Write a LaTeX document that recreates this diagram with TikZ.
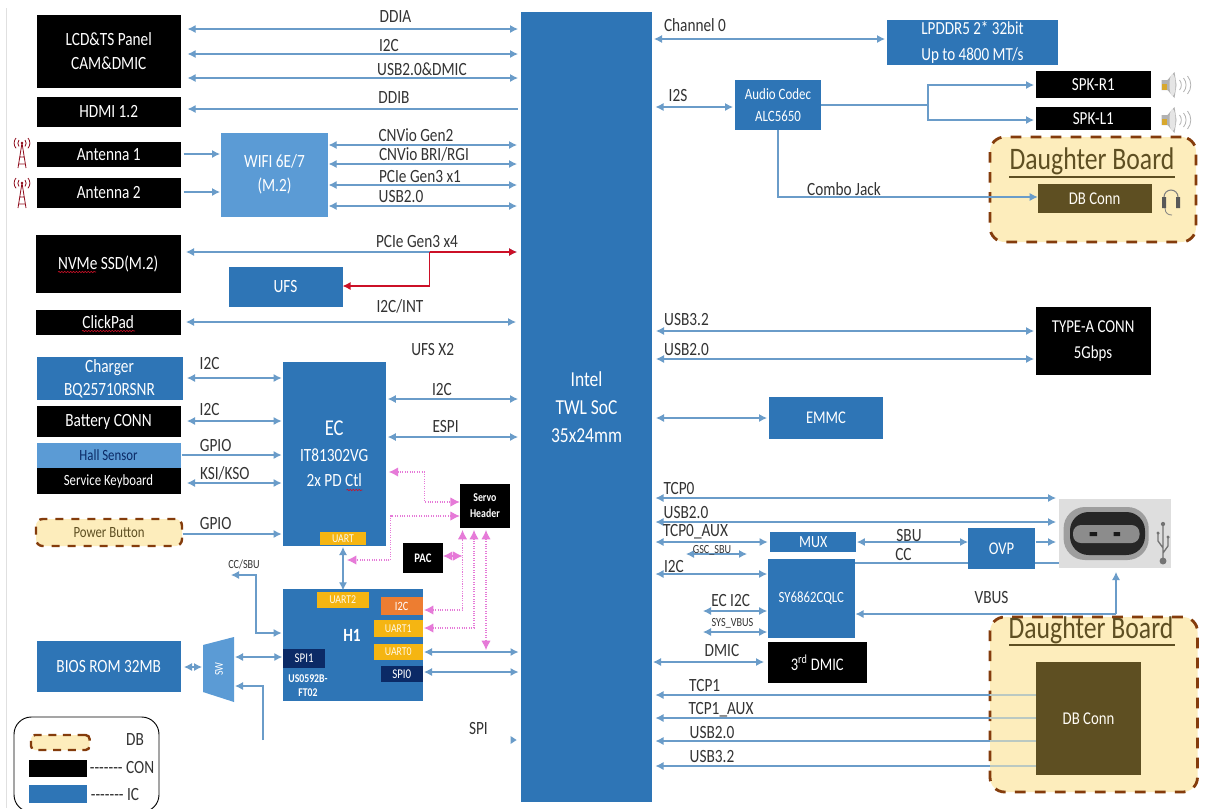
\documentclass[tikz,border=0pt]{standalone}
\usepackage{fontspec}
\setmainfont[FakeStretch=0.82]{Carlito}
\usetikzlibrary{arrows.meta,calc,decorations.pathmorphing}
\definecolor{ic}{HTML}{2E75B6}
\definecolor{wifi}{HTML}{5B9BD5}
\definecolor{wire}{HTML}{6A9CC9}
\definecolor{pinky}{HTML}{E67AD8}
\definecolor{redw}{HTML}{CC1027}
\definecolor{navy}{HTML}{0B2A66}
\definecolor{amber}{HTML}{F5B512}
\definecolor{orng}{HTML}{ED7D31}
\definecolor{dbfill}{HTML}{FDEDBC}
\definecolor{dbedge}{HTML}{843C0C}
\definecolor{dbtext}{HTML}{5E4F22}
\tikzset{
  anybox/.style={inner sep=0pt,outer sep=0pt,align=center,text=white,font=\fontsize{14}{18}\selectfont},
  icbox/.style={anybox,fill=ic},
  conbox/.style={anybox,fill=black},
  wifibox/.style={anybox,fill=wifi},
  yelbox/.style={anybox,fill=amber,font=\fontsize{9}{10}\selectfont,text=white!90!amber},
  orgbox/.style={anybox,fill=orng,font=\fontsize{9.5}{10}\selectfont},
  navbox/.style={anybox,fill=navy,font=\fontsize{10}{11}\selectfont},
  connbox/.style={anybox,fill=dbtext,text=white!85!dbfill,font=\fontsize{13.5}{15}\selectfont},
  dbbox/.style={anybox,fill=dbfill,draw=dbedge,line width=2.1pt,dash pattern=on 8pt off 7pt,rounded corners=11pt,text=dbtext},
  lbl/.style={inner sep=0pt,outer sep=0pt,text=black!80,font=\fontsize{14}{16}\selectfont},
  slbl/.style={lbl,font=\fontsize{9.3}{10}\selectfont},
  title/.style={inner sep=0pt,outer sep=0pt,text=dbtext,font=\fontsize{23.5}{26}\selectfont},
  whitebold/.style={inner sep=0pt,outer sep=0pt,text=white,font=\bfseries\fontsize{8.9}{10}\selectfont},
  wirel/.style={draw=wire,line width=0.85pt},
  bi/.style={wirel,{Latex[length=6pt,width=6pt]}-{Latex[length=6pt,width=6pt]}},
  to/.style={wirel,-{Latex[length=6pt,width=6pt]}},
  back/.style={wirel,{Latex[length=6pt,width=6pt]}-},
  pk/.style={draw=pinky,line width=0.8pt,densely dotted,{Latex[length=7pt,width=7pt]}-{Latex[length=7pt,width=7pt]}},
  rd/.style={draw=redw,line width=1pt},
  squig/.style={draw=redw,line width=0.45pt,decorate,decoration={snake,amplitude=0.5pt,segment length=2.2pt}},
  anten/.style={draw=redw!70!black,line width=0.6pt},
}
\newcount\lblc
\newcommand{\bx}[7]{%
  \pgfmathsetmacro\bxw{#5-#3}\pgfmathsetmacro\bxh{#6-#4}%
  \node[#1,minimum width=\bxw*0.75pt,minimum height=\bxh*0.75pt] (#2) at ({(#3+#5)/2},{(#4+#6)/2}) {#7};}
\newcommand{\lb}[4][lbl]{\global\advance\lblc by 1 \node[#1] (t\the\lblc) at (#2,#3) {#4};}
% horizontal connector at height #6 between two nodes, with offsets
\newcommand{\hc}[6]{\draw[#1] ($(#2 |- 0,#6)+(#3,0)$) -- ($(#4 |- 0,#6)+(#5,0)$);}
\newcommand{\antennaicon}[3]{%
  \coordinate (#1) at (#2,#3);
  \draw[anten] ($(#1)+(0,-6)$) -- ($(#1)+(-4,19)$) ($(#1)+(0,-6)$) -- ($(#1)+(4,19)$) ($(#1)+(-2.5,8)$) -- ($(#1)+(2.5,8)$) ($(#1)+(-3.5,15)$) -- ($(#1)+(3.5,15)$);
  \fill[redw!70!black] ($(#1)+(0,-6)$) circle (1pt);
  \draw[anten] ($(#1)+(-3,-9)$) arc (220:140:5) ($(#1)+(-6,-11)$) arc (220:140:8) ($(#1)+(3,-9)$) arc (-40:40:5) ($(#1)+(6,-11)$) arc (-40:40:8);}
\newcommand{\speakericon}[3]{%
  \coordinate (#1) at (#2,#3);
  \fill[gray!60] ($(#1)+(-7,-5)$) -- ($(#1)+(-1,-5)$) -- ($(#1)+(6,-13)$) -- ($(#1)+(8,0)$) -- ($(#1)+(6,13)$) -- ($(#1)+(-1,5)$) -- ($(#1)+(-7,5)$) -- cycle;
  \fill[gray!20] ($(#1)+(4,0)$) ellipse (3 and 11);
  \fill[amber!75!gray] ($(#1)+(-7,-1)$) rectangle ($(#1)+(-2,5)$);
  \draw[gray!60,line width=0.6pt] ($(#1)+(11,-5)$) arc (-40:40:7.8) ($(#1)+(15,-7)$) arc (-40:40:10.9) ($(#1)+(19,-9)$) arc (-40:40:14);}
\begin{document}
\begin{tikzpicture}[x=0.75pt,y=-0.75pt]
\useasboundingbox (0,0) rectangle (1220,808);
\fill[white] (0,0) rectangle (1220,808);
\draw[black!12,line width=1pt] (6.8,8) -- (6.8,808);

% SoC
\bx{icbox,font=\fontsize{16}{21}\selectfont}{soc}{521}{12}{652}{802}{Intel\\TWL SoC\\35x24mm}

% left column
\bx{conbox}{lcd}{36.5}{15}{181}{88}{LCD\&TS Panel\\CAM\&DMIC}
\bx{conbox}{hdmi}{36.5}{97}{181}{127}{HDMI 1.2}
\bx{conbox}{ant1}{36.5}{142}{181}{166.5}{Antenna 1}
\bx{conbox}{ant2}{36.5}{178}{181}{207.5}{Antenna 2}
\bx{conbox}{nvme}{36}{235}{180.5}{293}{NVMe SSD(M.2)}
\bx{conbox}{click}{36}{310}{180.5}{335}{ClickPad}
\bx{wifibox}{wifi}{221.4}{133}{327.6}{216.5}{WIFI 6E/7\\(M.2)}
\bx{icbox}{ufs}{228.5}{267}{342.5}{307}{UFS}
\bx{icbox,font=\fontsize{14}{17}\selectfont}{chg}{36.5}{357}{182.5}{400}{Charger\\BQ25710RSNR}
\bx{conbox}{bat}{36.5}{406}{180.5}{437}{Battery CONN}
\bx{wifibox,text=navy,font=\fontsize{11.7}{13}\selectfont}{hall}{36.5}{443}{180.5}{468}{Hall Sensor}
\bx{conbox,font=\fontsize{11.7}{13}\selectfont}{svc}{36.5}{468}{180.5}{494}{Service Keyboard}
\bx{dbbox,line width=1.8pt,dash pattern=on 6pt off 6pt,rounded corners=5pt,font=\fontsize{11.7}{13}\selectfont}{pwr}{36}{519}{182}{546}{Power Button}
\bx{icbox}{bios}{36.5}{641}{181}{692}{BIOS ROM 32MB}

% EC and H1
\bx{icbox,font=\fontsize{14}{19}\selectfont}{ec}{283}{362}{385.5}{546}{\fontsize{17}{19}\selectfont EC\\IT81302VG\\2x PD Ctl}
\bx{yelbox}{ecu}{320}{532}{366}{545}{UART}
\bx{icbox}{h1}{282.6}{589}{422.6}{701}{}
\lb[inner sep=0pt,outer sep=0pt,text=white,font=\bfseries\fontsize{14}{15}\selectfont]{352}{635}{H1}
\bx{yelbox}{u2}{317}{592}{368.5}{608}{UART2}
\bx{orgbox}{hi2c}{380.7}{597}{422.6}{615}{I2C}
\bx{yelbox}{u1}{374}{620}{422.6}{637}{UART1}
\bx{yelbox}{u0}{374}{644}{422.6}{660}{UART0}
\bx{navbox}{spi0}{381}{666}{422.6}{682}{SPI0}
\bx{navbox}{spi1}{283.3}{649}{325}{668}{SPI1}
\lb[whitebold]{308}{679}{US0592B-}
\lb[whitebold]{308}{693}{FT02}
\bx{conbox,font=\bfseries\fontsize{9}{12}\selectfont}{servo}{459.8}{484}{510}{528}{Servo\\Header}
\bx{conbox,font=\bfseries\fontsize{9.8}{11}\selectfont}{pac}{403}{543}{443}{573}{PAC}
% SW trapezoid
\coordinate (swa) at (203,645); \coordinate (swb) at (234,637); \coordinate (swc) at (234,702); \coordinate (swd) at (203,692);
\fill[wifi] (swa) -- (swb) -- (swc) -- (swd) -- cycle;
\node[inner sep=0pt,text=white,rotate=90,font=\fontsize{9}{10}\selectfont] (sw) at (219,669) {SW};

% right column
\bx{icbox,font=\fontsize{13.8}{19}\selectfont}{lpddr}{887}{20}{1058}{65}{LPDDR5 2* 32bit\\Up to 4800 MT/s}
\bx{icbox,font=\fontsize{11.8}{16}\selectfont}{codec}{735}{80}{821}{130}{Audio Codec\\ALC5650}
\bx{conbox,font=\fontsize{13.8}{15}\selectfont}{spkr}{1036}{71}{1150.5}{98}{SPK-R1}
\bx{conbox,font=\fontsize{13.8}{15}\selectfont}{spkl}{1036}{107}{1150.5}{130}{SPK-L1}
\bx{dbbox}{db1}{990}{137}{1196}{242}{}
\lb[title]{1092}{161}{Daughter Board}
\draw[dbtext,line width=1.1pt] (1009,177) -- (1174.6,177);
\bx{connbox}{dbc1}{1037.7}{184}{1151.6}{213}{DB Conn}
\bx{conbox,font=\fontsize{13.6}{19}\selectfont}{typea}{1035.6}{307}{1150.5}{375}{TYPE-A CONN\\5Gbps}
\bx{icbox,font=\fontsize{13.4}{15}\selectfont}{emmc}{769}{397}{883}{439}{EMMC}
\bx{icbox,font=\fontsize{12.8}{14}\selectfont}{mux}{770}{532}{856.4}{552}{MUX}
\bx{icbox,font=\fontsize{11.7}{13}\selectfont}{sy}{767.6}{559}{855}{638}{SY6862CQLC}
\bx{icbox,font=\fontsize{13.4}{15}\selectfont}{ovp}{968}{528}{1035}{569}{OVP}
\bx{conbox,font=\fontsize{13.3}{15}\selectfont}{dmic}{767.6}{642}{867}{683}{3\textsuperscript{rd} DMIC}
\bx{dbbox}{db2}{990}{617}{1197.5}{792}{}
\lb[title]{1091}{630}{Daughter Board}
\draw[dbtext,line width=1.1pt] (1009,645) -- (1174.6,645);
\bx{connbox}{dbc2}{1036}{662}{1141}{775}{DB Conn}

% USB-C picture
\bx{anybox,fill=black!13}{usb}{1059}{499}{1171}{568}{}
\fill[black!38,rounded corners=16pt] (1063.6,507) rectangle (1148.7,560);
\fill[black!85,rounded corners=14pt] (1070,512) rectangle (1145,555);
\fill[black!45,rounded corners=6pt] (1073,525) rectangle (1139.5,543);
\fill[black!90] (1089.5,532) rectangle (1097,536) (1113.6,532) rectangle (1120,536);
\draw[black!55,line width=1pt] (1163,526) -- (1163,560) (1163,548) -- (1158,541) -- (1158,534) (1163,553) -- (1168,546) -- (1168,538);
\fill[black!55] (1163,561) circle (2.6pt) (1163,524) circle (1.6pt) (1158,533) circle (1.3pt) (1168,537) circle (1.3pt);

% icons
\antennaicon{an1}{22}{149}
\antennaicon{an2}{22}{189}
\speakericon{sp1}{1168.5}{85}
\speakericon{sp2}{1168.5}{120}
\coordinate (hs) at (1171,197);
\draw[black!50,line width=0.8pt] ($(hs)+(-7,0)$) arc (180:360:7);
\fill[black!65] ($(hs)+(-9,0)$) rectangle ($(hs)+(-5,11)$) ($(hs)+(5,0)$) rectangle ($(hs)+(9,11)$);
\draw[black!50,line width=0.6pt] ($(hs)+(-6,11)$) .. controls ($(hs)+(-6,17)$) and ($(hs)+(-2,18)$) .. ($(hs)+(1,18)$);

% spell-check squiggles
\draw[squig] (58,272) -- (96,272);
\draw[squig] (82,331) -- (135,331);
\draw[squig] (346.5,490) -- (362.4,490);

% wires: top left
\hc{bi}{lcd.east}{6.6}{soc.west}{-3}{29}
\hc{bi}{lcd.east}{6.6}{soc.west}{-3}{54}
\hc{bi}{lcd.east}{6.6}{soc.west}{-3}{78}
\hc{back}{hdmi.east}{6.6}{soc.west}{-3}{109}
\hc{to}{ant1.east}{2.6}{wifi.west}{-1.4}{154}
\hc{to}{ant2.east}{2.6}{wifi.west}{-1.4}{192}
\hc{bi}{wifi.east}{1}{soc.west}{-4}{145}
\hc{bi}{wifi.east}{1}{soc.west}{-4}{164}
\hc{bi}{wifi.east}{1}{soc.west}{-4}{185}
\hc{bi}{wifi.east}{1}{soc.west}{-4}{206}
\hc{bi}{nvme.east}{5.5}{soc.west}{-4}{252}
\coordinate (rj) at (429.7,252);
\coordinate (rk) at (429.7,286);
\draw[rd,-{Latex[length=6pt,width=6pt]}] (rj) -- ($(soc.west |- rj)+(-4,0)$);
\draw[rd,-{Latex[length=6pt,width=6pt]}] (rj) -- (rk) -- (ufs.east |- rk);
\hc{bi}{click.east}{5.5}{soc.west}{-5}{322}

% wires: EC
\hc{bi}{chg.east}{4.5}{ec.west}{-1.4}{378}
\hc{bi}{bat.east}{6.5}{ec.west}{-1.4}{421}
\hc{to}{hall.east}{1}{ec.west}{-1.4}{455}
\hc{bi}{svc.east}{6.5}{ec.west}{-1.4}{483}
\hc{to}{pwr.east}{0.5}{ec.west}{-1.4}{534}
\hc{bi}{ec.east}{2.3}{soc.west}{-3}{399}
\hc{bi}{ec.east}{2.3}{soc.west}{-3}{437}
\draw[bi] ([yshift=-1.5pt]ecu.south) -- ([yshift=-1pt]ecu.south |- h1.north);

% pink
\coordinate (p1a) at (424.6,472); \coordinate (p1b) at (424.6,502);
\draw[pk] ($(ec.east |- p1a)+(3.3,0)$) -- (p1a) -- (p1b) -- (servo.west |- p1b);
\coordinate (p2a) at (390.5,516); \coordinate (p2b) at (390.5,560); \coordinate (p2c) at (347,560);
\draw[pk] (servo.west |- p2a) -- (p2a) -- (p2b) -- (p2c);
\coordinate (p3a) at (462.5,610); \coordinate (p4a) at (474,628); \coordinate (p5a) at (486,650);
\draw[pk] ($(hi2c.east |- p3a)+(1.4,0)$) -- (p3a) -- ($(p3a |- servo.south)+(0,2)$);
\draw[pk] ($(u1.east |- p4a)+(1.4,0)$) -- (p4a) -- ($(p4a |- servo.south)+(0,2)$);
\draw[pk] ($(p5a |- servo.south)+(0,2)$) -- (p5a);
\coordinate (p6) at (462.5,556);
\draw[pk] (pac.east |- p6) -- (p6);

% H1 wires
\hc{bi}{u0.east}{1.4}{soc.west}{-2.5}{652}
\hc{bi}{spi0.east}{1.4}{soc.west}{-2.5}{672}
\coordinate (ccs) at (231,575); \coordinate (ccb) at (256,575); \coordinate (ccc) at (256,633);
\draw[bi] (ccs) -- (ccb) -- (ccc) -- ($(h1.west |- ccc)+(-1,0)$);
\coordinate (sw1) at (203,667);
\draw[bi] ($(bios.east |- sw1)+(3,0)$) -- ($(sw1)+(-1,0)$);
\coordinate (sw2) at (235,657);
\draw[bi] (sw2) -- ($(spi1.west |- sw2)+(-1,0)$);
\coordinate (swf) at (263,740); \coordinate (swg) at (263,686); \coordinate (swh) at (235,686);
\draw[to] (swf) -- (swg) -- (swh);

% right wires
\hc{bi}{soc.east}{2}{lpddr.west}{-2}{39}
\hc{bi}{soc.east}{3.5}{codec.west}{-2}{107}
\coordinate (sj) at (928,105); \coordinate (sr) at (928,85); \coordinate (sl) at (928,120);
\draw[wirel] (codec.east |- sj) -- (sj);
\draw[to] (sj) -- (sr) -- ($(spkr.west |- sr)+(-2,0)$);
\draw[to] (sj) -- (sl) -- ($(spkl.west |- sl)+(-2,0)$);
\coordinate (cj) at (778,197);
\draw[to] (cj |- codec.south) -- (cj) -- (dbc1.west |- cj);
\hc{bi}{soc.east}{4}{typea.west}{-1.6}{331}
\hc{bi}{soc.east}{4}{typea.west}{-1.6}{359}
\hc{bi}{soc.east}{4}{emmc.west}{-2}{418}
\hc{bi}{soc.east}{3.5}{usb.west}{-3}{498}
\hc{bi}{soc.east}{3.5}{usb.west}{-3}{522}
\hc{bi}{soc.east}{3.5}{mux.west}{-2.4}{542}
\coordinate (gsca) at (686,554); \coordinate (gscb) at (747,554);
\draw[bi] (gsca) -- (gscb);
\hc{bi}{soc.east}{3.5}{sy.west}{-0.5}{574}
\hc{bi}{mux.east}{0.5}{ovp.west}{0}{542}
\hc{to}{ovp.east}{0.5}{usb.west}{-3}{542}
\hc{wirel}{sy.east}{0}{ovp.west}{0}{563}
\hc{wirel}{ovp.east}{0}{usb.west}{0}{563}
\coordinate (vb) at (1116,614);
\draw[to] (vb) -- ($(vb |- usb.south)+(0,4)$);
\draw[to] (vb) -- ($(sy.east |- vb)+(0.5,0)$);
\coordinate (eci) at (703,611); \coordinate (sysv) at (703,632);
\draw[bi] (eci) -- ($(sy.west |- eci)+(-0.5,0)$);
\draw[bi] (sysv) -- ($(sy.west |- sysv)+(-0.5,0)$);
\hc{bi}{soc.east}{1}{dmic.west}{-3.6}{662}
\hc{back}{soc.east}{3.5}{db2.west}{0}{695}
\hc{back}{soc.east}{3.5}{db2.west}{0}{718}
\hc{back}{soc.east}{3.5}{db2.west}{0}{741}
\hc{back}{soc.east}{3.5}{db2.west}{0}{766}
\hc{wirel,draw=wire!45!dbfill}{db2.west}{0}{dbc2.west}{0}{695}
\hc{wirel,draw=wire!45!dbfill}{db2.west}{0}{dbc2.west}{0}{718}
\hc{wirel,draw=wire!45!dbfill}{db2.west}{0}{dbc2.west}{0}{741}
\hc{wirel,draw=wire!45!dbfill}{db2.west}{0}{dbc2.west}{0}{766}

% labels
\lb{395.5}{17}{DDIA}
\lb{389}{46}{I2C}
\lb{422}{69}{USB2.0\&DMIC}
\lb{394}{98}{DDIB}
\lb{416}{135}{CNVio Gen2}
\lb{424}{154}{CNVio BRI/RGI}
\lb{420}{176}{PCIe Gen3 x1}
\lb{401}{197}{USB2.0}
\lb{417}{241}{PCIe Gen3 x4}
\lb{400}{306}{I2C/INT}
\lb{432.7}{350}{UFS X2}
\lb{209.6}{363}{I2C}
\lb{209.6}{409}{I2C}
\lb{215.7}{445}{GPIO}
\lb{224.8}{473}{KSI/KSO}
\lb{215.7}{523}{GPIO}
\lb{442}{389}{I2C}
\lb{445.6}{426}{ESPI}
\lb[slbl]{244}{564}{CC/SBU}
\lb{478.4}{728}{SPI}
\lb{695}{25}{Channel 0}
\lb{678}{96}{I2S}
\lb{844}{189}{Combo Jack}
\lb{686.5}{320}{USB3.2}
\lb{686.5}{350}{USB2.0}
\lb{679}{488}{TCP0}
\lb{686}{513}{USB2.0}
\lb{695.5}{532}{TCP0\_AUX}
\lb[slbl]{712}{550}{GSC\_SBU}
\lb{674}{566}{I2C}
\lb{909}{535}{SBU}
\lb{903.4}{554}{CC}
\lb{991.5}{597}{VBUS}
\lb{730.6}{600}{EC I2C}
\lb[slbl]{732.5}{623}{SYS\_VBUS}
\lb{722}{650}{DMIC}
\lb{704.7}{685}{TCP1}
\lb{721}{710}{TCP1\_AUX}
\lb{712}{733}{USB2.0}
\lb{712}{756}{USB3.2}

% SPI stray arrowhead
\fill[wire] (510.5,736) -- (516.6,740) -- (510.5,744) -- cycle;

% legend
\draw[black,line width=0.7pt,rounded corners=13pt] (14,717) rectangle (159,812);
\bx{dbbox,line width=1.8pt,dash pattern=on 6pt off 5pt,rounded corners=3pt}{legdb}{31}{735}{89.6}{750}{}
\bx{conbox}{legcon}{29}{760}{87}{777}{}
\bx{icbox}{legic}{29}{785}{87}{803}{}
\lb{135}{739}{DB}
\lb{122}{767}{-{}-{}-{}-{}-{}-{}- CON}
\lb{115}{794}{-{}-{}-{}-{}-{}-{}- IC}
\end{tikzpicture}
\end{document}
